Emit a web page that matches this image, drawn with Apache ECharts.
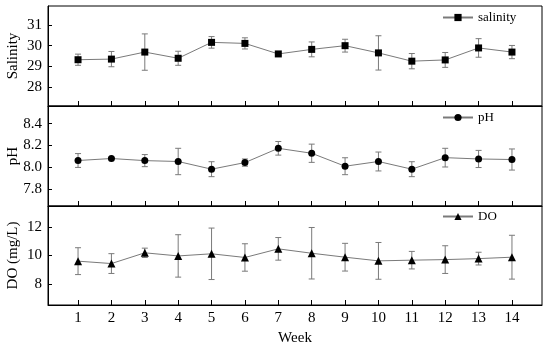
<!DOCTYPE html>
<html><head><meta charset="utf-8">
<script src="https://cdn.jsdelivr.net/npm/echarts@6/dist/echarts.min.js"></script>
<style>html,body{margin:0;padding:0;background:#fff}#c{width:550px;height:346px}</style>
</head><body><div id="c"></div>
<script>
const weeks = [1,2,3,4,5,6,7,8,9,10,11,12,13,14];
const salinity   = [29.32,29.35,29.69,29.39,30.16,30.11,29.60,29.82,30.00,29.65,29.25,29.31,29.89,29.69];
const salinitySD = [0.27,0.37,0.88,0.34,0.28,0.27,0.08,0.36,0.31,0.83,0.37,0.36,0.45,0.32];
const ph   = [8.064,8.082,8.063,8.055,7.985,8.045,8.175,8.130,8.012,8.055,7.985,8.090,8.078,8.073];
const phSD = [0.063,0.010,0.055,0.120,0.068,0.033,0.062,0.083,0.077,0.086,0.068,0.085,0.078,0.096];
const dox   = [9.60,9.43,10.19,9.97,10.12,9.86,10.47,10.16,9.88,9.62,9.67,9.71,9.78,9.88];
const doxSD = [0.95,0.70,0.33,1.50,1.82,0.97,0.80,1.82,0.98,1.30,0.62,0.98,0.45,1.55];
const yTicksSal = [28,29,30,31];
const yTicksPH = [7.8,8.0,8.2,8.4];
const yTicksDO = [8,10,12];

const FONT = 'Liberation Serif';
const GRAY = '#7a7a7a';

function pairs(v){ return weeks.map((w,i)=>[w, v[i]]); }
function triples(v,s){ return weeks.map((w,i)=>[w, v[i], s[i]]); }

function errRender(params, api){
  const x = api.value(0), m = api.value(1), s = api.value(2);
  const t = api.coord([x, m + s]), b = api.coord([x, m - s]);
  const cw = 3;
  const st = {stroke: GRAY, lineWidth: 1};
  return {type:'group', children:[
    {type:'line', shape:{x1:t[0], y1:t[1], x2:b[0], y2:b[1]}, style:st},
    {type:'line', shape:{x1:t[0]-cw, y1:t[1], x2:t[0]+cw, y2:t[1]}, style:st},
    {type:'line', shape:{x1:b[0]-cw, y1:b[1], x2:b[0]+cw, y2:b[1]}, style:st}
  ]};
}

const grids = [
  {left:48, right:8, top:6, height:100},
  {left:48, right:8, top:106, height:100},
  {left:48, right:8, top:206, height:99}
];
grids.forEach(g=>{ g.show = true; g.borderColor = '#000'; g.borderWidth = 1; g.backgroundColor = 'transparent'; g.containLabel = false; g.outerBoundsMode = 'none'; });

function xAxis(i){
  return {
    type:'value', gridIndex:i, min:0.1, max:14.9,
    axisLine:{show:true, lineStyle:{color:'#000', width:1}},
    axisTick:{show:true, inside:true, length:5, lineStyle:{color:'#000'}, customValues:weeks},
    axisLabel:{show:i===2, margin:6, fontSize:15, fontFamily:FONT, color:'#000', customValues:weeks,
      formatter: v => String(v)},
    splitLine:{show:false},
    name: i===2 ? 'Week' : '', nameLocation:'middle', nameGap:26, nameMoveOverlap:false,
    nameTextStyle:{fontSize:15, fontFamily:FONT, color:'#000'}
  };
}
function yAxis(i, name, min, max, ticks, dec){
  return {
    type:'value', gridIndex:i, min:min, max:max,
    axisLine:{show:true, lineStyle:{color:'#000', width:1}},
    axisTick:{show:true, inside:true, length:4, lineStyle:{color:'#000'}, customValues:ticks},
    axisLabel:{margin:6, fontSize:15, fontFamily:FONT, color:'#000', customValues:ticks,
      formatter: v => Number(v).toFixed(dec)},
    splitLine:{show:false},
    name:name, nameLocation:'middle', nameGap:27, nameMoveOverlap:false,
    nameTextStyle:{fontSize:15, fontFamily:FONT, color:'#000'}
  };
}

function lineSeries(name, i, data, symbol){
  return {
    name:name, type:'line', xAxisIndex:i, yAxisIndex:i, data:pairs(data),
    symbol:symbol, symbolSize: symbol==='triangle' ? 8 : 7,
    itemStyle:{color:'#000', borderWidth:0},
    lineStyle:{color:GRAY, width:1},
    z:3, animation:false
  };
}
function errSeries(name, i, data, sd){
  return {
    name:name, type:'custom', xAxisIndex:i, yAxisIndex:i, data:triples(data, sd),
    renderItem:errRender, encode:{x:0, y:1}, z:2, animation:false, silent:true
  };
}

function legend(name, top){
  return {
    data:[name], left:442, top:top, padding:0, itemWidth:30, itemHeight:9,
    textStyle:{fontSize:13, fontFamily:FONT, color:'#000'}, selectedMode:false
  };
}

const option = {
  backgroundColor:'#fff',
  animation:false,
  grid: grids,
  xAxis: [xAxis(0), xAxis(1), xAxis(2)],
  yAxis: [
    yAxis(0, 'Salinity', 27.08, 31.92, yTicksSal, 0),
    yAxis(1, 'pH', 7.65, 8.56, yTicksPH, 1),
    yAxis(2, 'DO (mg/L)', 6.5, 13.5, yTicksDO, 0)
  ],
  legend: [legend('salinity', 11), legend('pH', 111), legend('DO', 210)],
  series: [
    errSeries('salinityErr', 0, salinity, salinitySD),
    lineSeries('salinity', 0, salinity, 'rect'),
    errSeries('pHErr', 1, ph, phSD),
    lineSeries('pH', 1, ph, 'circle'),
    errSeries('DOErr', 2, dox, doxSD),
    lineSeries('DO', 2, dox, 'triangle')
  ]
};
const chart = echarts.init(document.getElementById('c'), null, {renderer:'canvas'});
chart.setOption(option);
</script></body></html>
